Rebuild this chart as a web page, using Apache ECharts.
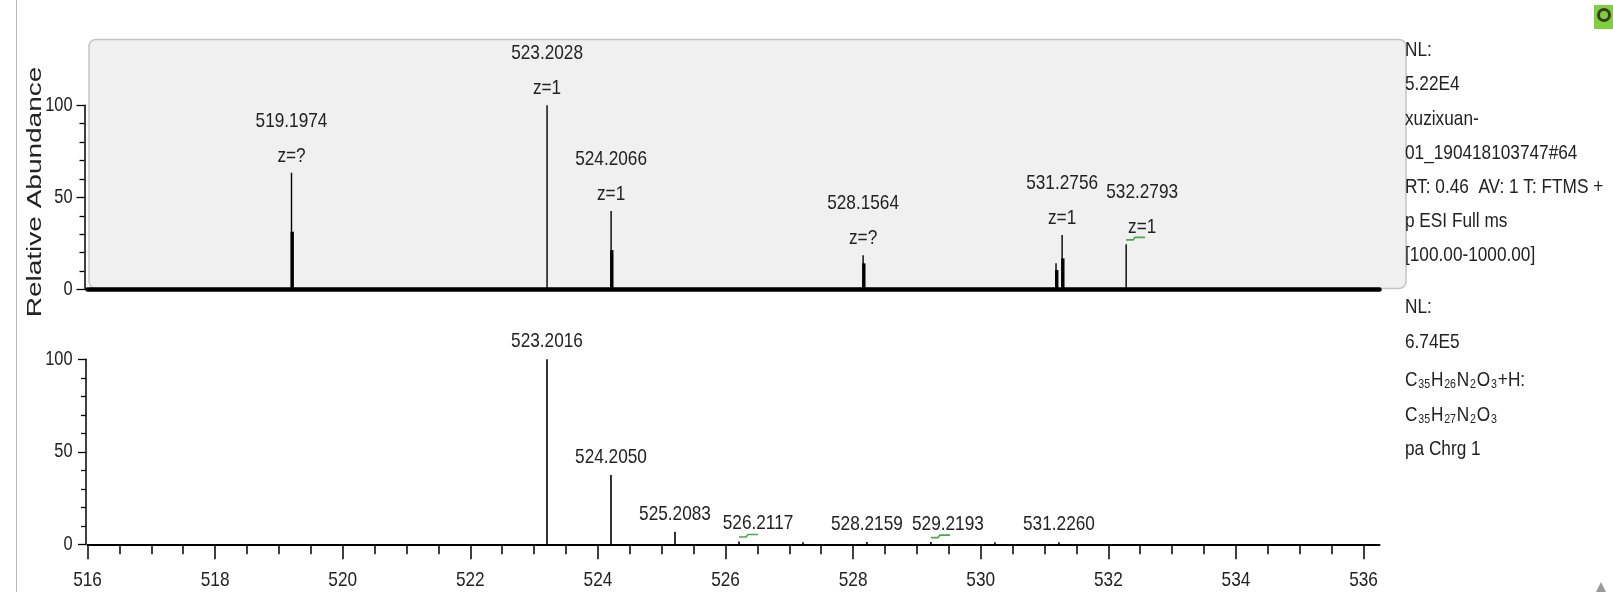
<!DOCTYPE html>
<html>
<head>
<meta charset="utf-8">
<script src="https://cdn.jsdelivr.net/npm/echarts@6/dist/echarts.min.js"></script>
<style>
  html, body { margin: 0; padding: 0; background: #ffffff; }
  #main { width: 1613px; height: 592px; }
</style>
</head>
<body>
<div id="main"></div>
<script>
// ---- Measured profile spectrum (upper trace) ----
// centroid m/z, apex intensity (%), inner shoulder of the profile (%)
const measuredMz       = [519.1974, 523.2028, 524.2066, 528.1564, 531.1800, 531.2756, 532.2793];
const measuredApex     = [63.4, 100, 42.6, 18.6, 14.2, 29.6, 24.5];
const measuredShoulder = [31.4, 0, 21.4, 14.2, 10.6, 16.9, 0];
const measuredCharge   = ['?', '1', '1', '?', '', '1', '1'];   // '' = no annotation

// ---- Simulated isotope pattern, C35H27N2O3 (lower trace) ----
const simulatedMz      = [523.2016, 524.2050, 525.2083, 526.2117, 527.2150, 528.2159, 529.2193, 530.2227, 531.2260];
const simulatedInt     = [100, 37.5, 6.8, 1.5, 0.8, 1.2, 1.2, 0.5, 1.0];
const simulatedLabeled = [true, true, true, true, false, true, true, false, true];

// ---- Axis ticks ----
const mzTickLabels   = [516, 518, 520, 522, 524, 526, 528, 530, 532, 534, 536];
const abundanceTicks = [0, 50, 100];

// ---- Side annotations ----
const scanInfo = ['NL:', '5.22E4', 'xuzixuan-', '01_190418103747#64', 'RT: 0.46  AV: 1 T: FTMS +', 'p ESI Full ms', '[100.00-1000.00]'];
const simInfoTop = ['NL:', '6.74E5'];
const simInfoBottom = ['pa Chrg 1'];

const MZ_MIN = 516, MZ_MAX = 536.25;

// half-step tick marks between the labelled m/z ticks
const mzMinorTicks = [];
for (let i = 0; i < mzTickLabels.length - 1; i++) {
  const a = mzTickLabels[i], b = mzTickLabels[i + 1];
  for (let k = 1; k < 4; k++) mzMinorTicks.push(a + (b - a) * k / 4);
}

// instrument-style condensed lettering: regular sans squeezed horizontally
const FONT = '"Liberation Sans", Arial, sans-serif';
const SQUEEZE = 0.82;
const INK = '#222222';
const GREEN = '#4aa84a';

// label placement tweaks for crowded annotations (pixels to the right)
const labelNudge = { '532.2793': 16, '526.2117': 19, '529.2193': 17 };
// annotations carrying the small green match flag
const matchFlag = { '532.2793': true, '526.2117': true, '529.2193': true };

function textEl(x, y, text, align, size) {
  return {
    type: 'text', x: x, y: y, scaleX: SQUEEZE,
    style: { text: text, fill: INK, fontSize: size || 21, fontFamily: FONT,
             align: align || 'center', verticalAlign: 'middle' }
  };
}
function flagEl(x, y) {
  return {
    type: 'polyline',
    shape: { points: [[x, y + 1.5], [x + 7, y + 1.5], [x + 9, y - 1], [x + 19, y - 1]] },
    style: { stroke: GREEN, lineWidth: 1.6, fill: null }
  };
}

function renderMeasured(params, api) {
  const mz = api.value(0), apex = api.value(1), shoulder = api.value(2);
  const base = api.coord([mz, 0]);
  const top = api.coord([mz, apex]);
  const kids = [{
    type: 'line',
    shape: { x1: base[0], y1: base[1], x2: top[0], y2: top[1] },
    style: { stroke: '#000', lineWidth: 1.4 }
  }];
  if (shoulder > 0) {
    const sh = api.coord([mz, shoulder]);
    kids.push({ type: 'rect', shape: { x: base[0] - 1, y: sh[1], width: 3.4, height: base[1] - sh[1] }, style: { fill: '#000' } });
  }
  const charge = measuredCharge[params.dataIndex];
  if (charge) {
    const key = mz.toFixed(4);
    const lx = top[0] + (labelNudge[key] || 0);
    kids.push(textEl(lx, top[1] - 52, key));
    kids.push(textEl(lx, top[1] - 17, 'z=' + charge));
    if (matchFlag[key]) kids.push(flagEl(top[0], top[1] - 6));
  }
  return { type: 'group', children: kids };
}

function renderSimulated(params, api) {
  const mz = api.value(0), inten = api.value(1);
  const base = api.coord([mz, 0]);
  const top = api.coord([mz, inten]);
  const kids = [{
    type: 'line',
    shape: { x1: base[0], y1: base[1], x2: top[0], y2: Math.min(top[1], base[1] - 2) },
    style: { stroke: '#000', lineWidth: 1.6 }
  }];
  if (simulatedLabeled[params.dataIndex]) {
    const key = mz.toFixed(4);
    const lx = top[0] + (labelNudge[key] || 0);
    const ly = top[1] - 18;
    kids.push(textEl(lx, ly, key));
    if (matchFlag[key]) kids.push(flagEl(top[0], ly + 12));
  }
  return { type: 'group', children: kids };
}

// tick captions, placed through the axes' own scales
function renderMzTickLabel(params, api) {
  const v = api.value(0);
  const p = api.coord([v, 0]);
  return textEl(p[0], p[1] + 36, String(v), 'center', 21);
}
function renderAbundanceTickLabel(params, api) {
  const v = api.value(1);
  const p = api.coord([MZ_MIN, v]);
  return textEl(p[0] - 15, p[1], String(v), 'right', 20);
}

const yAxisBase = {
  type: 'value', min: 0, max: 100, interval: 50,
  axisLine: { show: true, lineStyle: { color: '#000', width: 1.5 } },
  axisTick: { show: true, length: 8, lineStyle: { color: '#000', width: 1.3 } },
  minorTick: { show: true, splitNumber: 5, length: 5, lineStyle: { color: '#000', width: 1.3 } },
  axisLabel: { show: false },
  splitLine: { show: false }
};

const option = {
  animation: false,
  backgroundColor: '#ffffff',
  grid: [
    { left: 87.5, top: 105.3, width: 1292, height: 184.2, outerBoundsMode: 'none', containLabel: false },
    { left: 87.5, top: 359.3, width: 1292, height: 185, outerBoundsMode: 'none', containLabel: false }
  ],
  xAxis: [
    { // upper trace: heavy baseline only
      gridIndex: 0, type: 'value', min: MZ_MIN, max: MZ_MAX,
      axisLine: { show: true, onZero: true, lineStyle: { color: '#000', width: 4.5 } },
      axisTick: { show: false }, axisLabel: { show: false }, splitLine: { show: false }
    },
    { // lower trace: labelled m/z axis
      gridIndex: 1, type: 'value', min: MZ_MIN, max: MZ_MAX, position: 'bottom',
      axisLine: { show: true, onZero: true, lineStyle: { color: '#000', width: 2 } },
      axisTick: { show: true, length: 15, customValues: mzTickLabels, lineStyle: { color: '#000', width: 1.5 } },
      axisLabel: { show: false },
      splitLine: { show: false }
    },
    { // lower trace: half-step tick marks
      gridIndex: 1, type: 'value', min: MZ_MIN, max: MZ_MAX, position: 'bottom', offset: 0,
      axisLine: { show: false },
      axisTick: { show: true, length: 10, customValues: mzMinorTicks, lineStyle: { color: '#000', width: 1.5 } },
      axisLabel: { show: false }, splitLine: { show: false }
    }
  ],
  yAxis: [
    Object.assign({}, yAxisBase, { gridIndex: 0, offset: 3 }),
    Object.assign({}, yAxisBase, { gridIndex: 1, offset: 1.5 })
  ],
  series: [
    {
      name: 'measured', type: 'custom', xAxisIndex: 0, yAxisIndex: 0, clip: false, z: 5,
      renderItem: renderMeasured,
      encode: { x: 0, y: 1 },
      data: measuredMz.map((m, i) => [m, measuredApex[i], measuredShoulder[i]])
    },
    {
      name: 'simulated', type: 'custom', xAxisIndex: 1, yAxisIndex: 1, clip: false, z: 5,
      renderItem: renderSimulated,
      encode: { x: 0, y: 1 },
      data: simulatedMz.map((m, i) => [m, simulatedInt[i]])
    },
    {
      name: 'm/z ticks', type: 'custom', xAxisIndex: 1, yAxisIndex: 1, clip: false, silent: true, z: 5,
      renderItem: renderMzTickLabel,
      encode: { x: 0 },
      data: mzTickLabels.map(v => [v, 0])
    },
    {
      name: 'abundance ticks (upper)', type: 'custom', xAxisIndex: 0, yAxisIndex: 0, clip: false, silent: true, z: 5,
      renderItem: renderAbundanceTickLabel,
      encode: { y: 1 },
      data: abundanceTicks.map(v => [MZ_MIN, v])
    },
    {
      name: 'abundance ticks (lower)', type: 'custom', xAxisIndex: 1, yAxisIndex: 1, clip: false, silent: true, z: 5,
      renderItem: renderAbundanceTickLabel,
      encode: { y: 1 },
      data: abundanceTicks.map(v => [MZ_MIN, v])
    }
  ],
  graphic: { elements: [] }
};

const G = option.graphic.elements;
// window edge
G.push({ type: 'line', z: -20, shape: { x1: 16.5, y1: 0, x2: 16.5, y2: 592 }, style: { stroke: '#b8b8b8', lineWidth: 1 } });
// shaded panel behind the measured trace
G.push({ type: 'rect', z: -10, shape: { x: 89, y: 39.5, width: 1317, height: 249, r: 7 },
         style: { fill: '#f0f0f0', stroke: '#c4c4c4', lineWidth: 1.5 } });
// y axis title
G.push({ type: 'text', x: 35, y: 192, rotation: Math.PI / 2, scaleX: 1.4, z: 10,
         style: { text: 'Relative Abundance', fill: INK, fontSize: 20, fontFamily: FONT,
                  align: 'center', verticalAlign: 'middle' } });
// scan header
scanInfo.forEach((t, i) => {
  G.push(Object.assign(textEl(1405, 50.5 + i * 34.2, t, 'left'), { z: 10 }));
});
// simulation header
simInfoTop.forEach((t, i) => {
  G.push(Object.assign(textEl(1405, 307.5 + i * 34.5, t, 'left'), { z: 10 }));
});
const formulaRich = {
  m: { fontSize: 21, fontFamily: FONT, fill: INK, lineHeight: 24, verticalAlign: 'bottom' },
  s: { fontSize: 13, fontFamily: FONT, fill: INK, lineHeight: 24, verticalAlign: 'bottom', padding: [0, 1, 0, 1] }
};
G.push({ type: 'text', x: 1405, y: 378.5, z: 10, scaleX: SQUEEZE,
         style: { text: '{m|C}{s|35}{m|H}{s|26}{m|N}{s|2}{m|O}{s|3}{m|+H:}', rich: formulaRich, align: 'left', verticalAlign: 'middle' } });
G.push({ type: 'text', x: 1405, y: 413.5, z: 10, scaleX: SQUEEZE,
         style: { text: '{m|C}{s|35}{m|H}{s|27}{m|N}{s|2}{m|O}{s|3}', rich: formulaRich, align: 'left', verticalAlign: 'middle' } });
simInfoBottom.forEach((t, i) => {
  G.push(Object.assign(textEl(1405, 449 + i * 34.5, t, 'left'), { z: 10 }));
});
// toolbar glyphs at the window corners
G.push({ type: 'rect', z: 10, shape: { x: 1594, y: 5, width: 19, height: 24 }, style: { fill: '#7fd03e' } });
G.push({ type: 'circle', z: 11, shape: { cx: 1604, cy: 15, r: 5.5 }, style: { fill: 'none', stroke: '#3b3b20', lineWidth: 3 } });
G.push({ type: 'polygon', z: 10, shape: { points: [[1596, 592], [1601, 582], [1606, 592]] }, style: { fill: '#9a9a9a' } });

const chart = echarts.init(document.getElementById('main'), null, { renderer: 'canvas' });
chart.setOption(option);
</script>
</body>
</html>
